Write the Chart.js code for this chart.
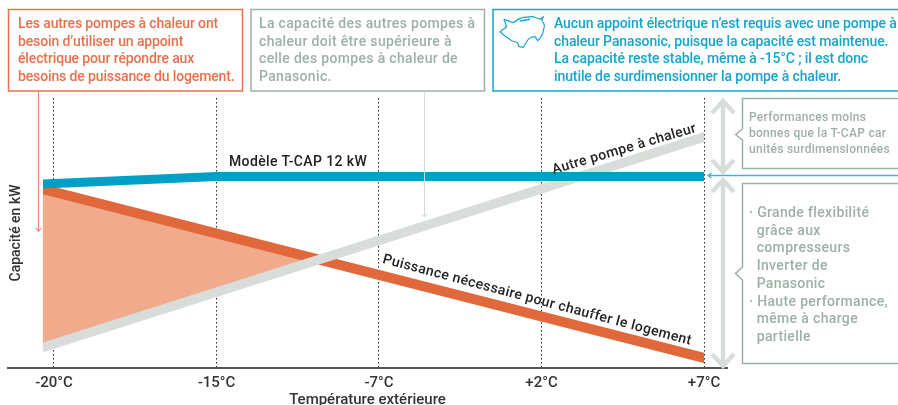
<!DOCTYPE html>
<html lang="fr">
<head>
<meta charset="utf-8">
<title>Capacité des pompes à chaleur</title>
<script src="https://cdn.jsdelivr.net/npm/chart.js@4/dist/chart.umd.min.js"></script>
<style>
  html, body { margin: 0; padding: 0; background: #fff; }
  #wrap { position: relative; width: 898px; height: 405px; overflow: hidden; font-family: Roboto, sans-serif; font-weight: 500; }
  canvas { position: absolute; left: 0; top: 0; }
  svg { position: absolute; left: 0; top: 0; }
  .note { position: absolute; white-space: pre; font-size: 14px; line-height: 17.7px; }
  .orange { color: #e8714b; letter-spacing: -0.13px; }
  .grey { color: #9db0a6; letter-spacing: 0.33px; }
  .blue { color: #16a5cb; letter-spacing: -0.1px; }
  .small { font-size: 12px; line-height: 15.8px; letter-spacing: 0.27px; }
  .side { line-height: 17.7px; letter-spacing: 0.35px; }
  .mark { position: absolute; white-space: pre; font-size: 14px; color: #222; transform-origin: center; letter-spacing: 0.38px; }
</style>
</head>
<body>
<div id="wrap">
  <canvas id="chart" width="898" height="405"></canvas>

  <svg width="898" height="405" fill="none">
    <!-- boxes above the plot -->
    <rect x="8.500" y="9.500" width="234" height="81.500" stroke="#e8714b" stroke-width="1.500"/>
    <rect x="251" y="9.500" width="233.500" height="81.500" stroke="#9fb0a8" stroke-width="1.500"/>
    <rect x="493" y="9.500" width="420" height="81.500" stroke="#16a5cb" stroke-width="1.500"/>

    <!-- thin arrows -->
    <path d="M38.500 91V231M36 228l2.500 3.500l2.500-3.500" stroke="#ee8a68" stroke-width="1.200"/>
    <path d="M424.500 91V216M422 213.500l2.500 3.500l2.500-3.500" stroke="#d5d9d6" stroke-width="1"/>
    <path d="M898 175.500H708M711.500 173l-3.500 2.500l3.500 2.500" stroke="#3fb4d4" stroke-width="1.300"/>

    <!-- big double arrows -->
    <path d="M723 102V171M712 113l11-12l11 12M712 160l11 12l11-12" stroke="#d9ddda" stroke-width="4.500"/>
    <path d="M723 181V365M712 192l11-12l11 12M712 354l11 12l11-12" stroke="#d9ddda" stroke-width="4.500"/>

    <!-- callouts -->
    <path d="M913 98.500H742.500V129L735.500 134.500L742.500 140V168.500H913" stroke="#9fb0a8" stroke-width="1.500"/>
    <path d="M913 183.500H742.500V267L735.500 273.500L742.500 280V363.500H913" stroke="#9fb0a8" stroke-width="1.500"/>

    <!-- piggy bank -->
    <path d="M500 31.700L506.700 26.700L504 19.300L513.300 22.700Q518 18.500 523.300 17.300L533.300 16.700L540 19.300L543.300 16.700L541.700 20.700Q545 24 544.300 26.700L542.700 33.300L540 38.300L537.700 40.700L535 36.700Q531 36.500 528.300 39.300L523.300 47.300L519 46.700L517.700 42.700L511.700 40.700L505 36Z" stroke="#16a5cb" stroke-width="1.200" stroke-linejoin="round"/>
    <path d="M520 21L530 19.300" stroke="#16a5cb" stroke-width="1.600"/>
  </svg>

  <div class="note orange" style="left:18px;top:15px">Les autres pompes à chaleur ont
besoin d’utiliser un appoint
électrique pour répondre aux
besoins de puissance du logement.</div>
  <div class="note grey" style="left:259px;top:15px">La capacité des autres pompes à
chaleur doit être supérieure à
celle des pompes à chaleur de
Panasonic.</div>
  <div class="note blue" style="left:554px;top:15px">Aucun appoint électrique n’est requis avec une pompe à
chaleur Panasonic, puisque la capacité est maintenue.
La capacité reste stable, même à -15°C ; il est donc
inutile de surdimensionner la pompe à chaleur.</div>
  <div class="note grey small" style="left:749px;top:110px">Performances moins
bonnes que la T-CAP car
unités surdimensionnées</div>
  <div class="note grey side" style="left:749px;top:204px">· Grande flexibilité
  grâce aux
  compresseurs
  Inverter de
  Panasonic
· Haute performance,
  même à charge
  partielle</div>

  <div class="mark" style="left:229px;top:153px">Modèle T-CAP 12 kW</div>
  <div class="mark" style="left:549px;top:140px;transform:rotate(-16.4deg)">Autre pompe à chaleur</div>
  <div class="mark" style="left:378px;top:291px;transform:rotate(14.9deg)">Puissance nécessaire pour chauffer le logement</div>
</div>

<script>
// temperature ticks, evenly spaced on the axis
const tempLabels = ["-20°C", "-15°C", "-7°C", "+2°C", "+7°C"];

// positions along the temperature axis (first and last run past the cut of the bands)
const tcapX = [-0.1, -0.07, 1, 4, 4.03];
const lineX = [-0.1, -0.07, 4, 4.03];

// values
const tcapValues = [18.38, 18.4, 19.15, 19.15, 19.15];
const otherPumpValues = [1.9, 2.05, 23.1, 23.26];
const demandValues = [18.02, 17.9, 1.0, 0.88];

const pairUp = (xs, ys) => xs.map((x, i) => ({ x: x, y: ys[i] }));

// the bands stop with a straight vertical cut at these pixels
const bandClip = { left: -35, right: -23, top: 0, bottom: 0 };

const ctx = document.getElementById("chart").getContext("2d");
const chart = new Chart(ctx, {
  type: "line",
  data: {
    datasets: [
      { label: "Modèle T-CAP 12 kW", data: pairUp(tcapX, tcapValues), borderColor: "#009fc6", borderWidth: 9, clip: bandClip },
      { label: "Autre pompe à chaleur", data: pairUp(lineX, otherPumpValues), borderColor: "#d9ddda", borderWidth: 9.5, clip: bandClip },
      { label: "Puissance nécessaire pour chauffer le logement", data: pairUp(lineX, demandValues), borderColor: "#e0683a", borderWidth: 10, clip: bandClip },
      // shaded gap between demand and the other pump, only over the width of the bands
      {
        label: "Appoint",
        data: pairUp(lineX, demandValues).slice(1, 3),
        borderWidth: 0,
        borderColor: "rgba(0,0,0,0)",
        fill: { target: 1, above: "#efab8c", below: "rgba(0,0,0,0)" }
      }
    ]
  },
  options: {
    responsive: false,
    animation: false,
    layout: { padding: { left: 8, right: 171, top: 98, bottom: 0 } },
    elements: {
      point: { radius: 0 },
      line: { tension: 0, borderCapStyle: "butt" }
    },
    plugins: { legend: { display: false }, tooltip: { enabled: false } },
    scales: {
      x: {
        type: "linear",
        min: -0.283,
        max: 4.1415,
        afterBuildTicks: scale => {
          scale.ticks = tempLabels.map((_, i) => ({ value: i }));
        },
        afterFit: scale => { scale.height = 37; },
        ticks: {
          autoSkip: false,
          maxRotation: 0,
          padding: 6,
          color: "#333",
          font: { family: "Roboto", size: 15, weight: "500" },
          callback: value => tempLabels[value]
        },
        grid: { color: "#222", lineWidth: 1, drawTicks: false },
        border: { display: true, color: "#555", width: 2, dash: [1.5, 2.5] },
        title: {
          display: true,
          text: "Température extérieure",
          color: "#333",
          padding: { top: 0, bottom: -4 },
          font: { family: "Roboto", size: 15, weight: "500" }
        }
      },
      y: {
        min: 0,
        max: 27,
        afterFit: scale => { scale.width = 0; },
        ticks: { display: false },
        grid: { display: false },
        border: { display: false },
        title: {
          display: true,
          text: "Capacité en kW",
          color: "#333",
          padding: { top: 0, bottom: 0 },
          font: { family: "Roboto", size: 14, weight: "500" }
        }
      }
    }
  }
});
</script>
</body>
</html>
